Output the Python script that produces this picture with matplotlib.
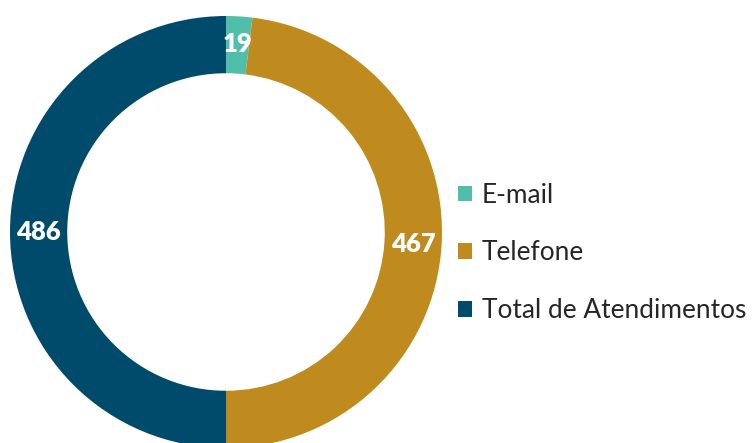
import matplotlib

matplotlib.use("Agg")
import matplotlib.pyplot as plt

# data
categories = ["E-mail", "Telefone", "Total de Atendimentos"]
values = [19, 467, 486]
colors = ["#4FBFAA", "#C08B1E", "#004B6B"]

plt.rcParams["font.family"] = ["Lato", "DejaVu Sans"]

fig = plt.figure(figsize=(7.52, 4.43), dpi=100)
# pie centre ~ (226, 232) px, outer radius ~216 px
W, H = 752, 443
cx, cy, r = 226, 232, 216
ax = fig.add_axes([(cx - r) / W, (H - cy - r) / H, 2 * r / W, 2 * r / H])

total = sum(values)
wedges, texts, autotexts = ax.pie(
    values,
    colors=colors,
    startangle=90,
    counterclock=False,
    radius=1.0,
    wedgeprops=dict(width=0.265, edgecolor="none"),
    autopct=lambda p: f"{round(p * total / 100)}",
    pctdistance=0.87,
)
for t in autotexts:
    t.set_color("white")
    t.set_fontweight("heavy")
    t.set_fontsize(18.5)
ax.set_xlim(-1, 1)
ax.set_ylim(-1, 1)
ax.set_aspect("equal")
ax.axis("off")

fig.legend(
    wedges,
    categories,
    loc="center left",
    bbox_to_anchor=(434 / W, (H - 253) / H),
    frameon=False,
    fontsize=18.9,
    labelcolor="#262626",
    handlelength=0.53,
    handleheight=0.53,
    handletextpad=0.38,
    labelspacing=1.25,
)

fig.savefig("out.png", dpi=100)
